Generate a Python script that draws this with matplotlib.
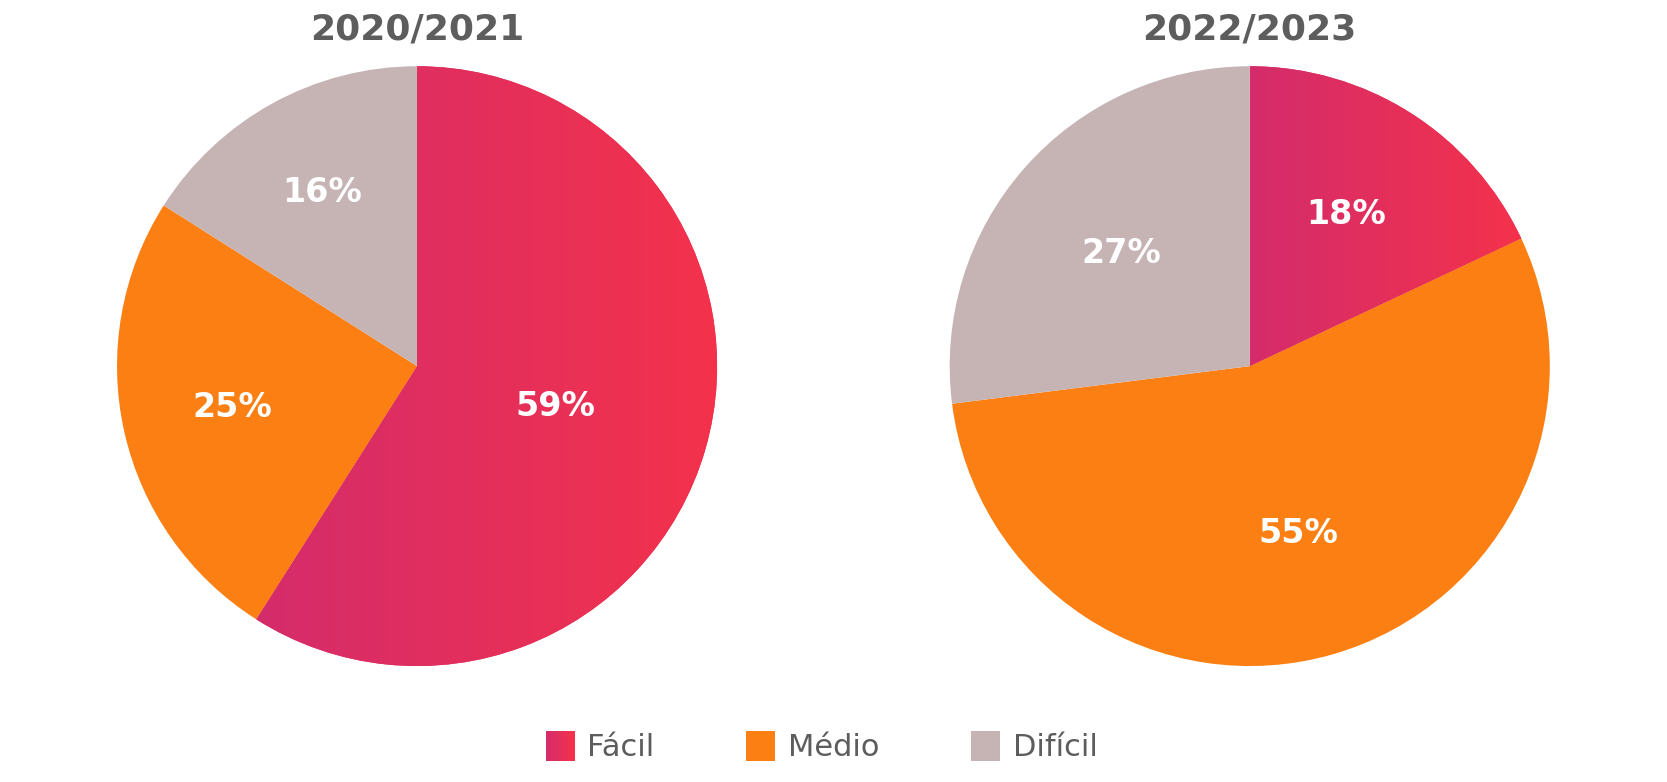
import numpy as np
import matplotlib
matplotlib.use("Agg")
import matplotlib.pyplot as plt
from matplotlib.colors import LinearSegmentedColormap
from matplotlib.patches import Rectangle, Patch
from matplotlib.legend_handler import HandlerBase

# données
categories = ["Fácil", "Médio", "Difícil"]
years = ["2020/2021", "2022/2023"]
values_2021 = [59, 25, 16]
values_2023 = [18, 55, 27]
all_values = [values_2021, values_2023]

# styles
grad_start = "#d42c6b"
grad_end = "#f4324b"
colors = ["#e52f5a", "#fb7f12", "#c6b3b4"]
title_color = "#5d5d5d"
grad_cmap = LinearSegmentedColormap.from_list("facil", [grad_start, grad_end])
label_dist = [[0.48, 0.63, 0.66], [0.6, 0.58, 0.57]]


class GradientHandler(HandlerBase):
    def create_artists(self, legend, orig_handle, xdescent, ydescent,
                       width, height, fontsize, trans):
        n = 30
        arts = []
        for k in range(n):
            r = Rectangle((-xdescent + k * width / n, -ydescent), width / n + 0.3, height,
                          facecolor=grad_cmap(k / (n - 1)), edgecolor="none",
                          transform=trans)
            arts.append(r)
        return arts


fig = plt.figure(figsize=(16.67, 7.82), dpi=100)
boxes = [[0.0702, 0.1483, 0.36, 0.767], [0.5697, 0.1483, 0.36, 0.767]]

for i, vals in enumerate(all_values):
    ax = fig.add_axes(boxes[i])
    wedges, texts = ax.pie(vals, colors=colors, startangle=90, counterclock=False,
                           radius=1, wedgeprops=dict(linewidth=0))
    # dégradé horizontal sur la part "Fácil"
    w = wedges[0]
    verts = w.get_path().vertices
    xmin, xmax = verts[:, 0].min(), verts[:, 0].max()
    ymin, ymax = verts[:, 1].min(), verts[:, 1].max()
    grad = np.linspace(0, 1, 256).reshape(1, -1)
    im = ax.imshow(grad, cmap=grad_cmap, extent=(xmin, xmax, ymin, ymax),
                   aspect="auto", zorder=w.get_zorder() + 0.1, interpolation="bilinear")
    im.set_clip_path(w)
    # étiquettes
    total = sum(vals)
    start = 90.0
    for j, v in enumerate(vals):
        ang = start - 360.0 * v / total / 2
        start -= 360.0 * v / total
        d = label_dist[i][j]
        ax.text(d * np.cos(np.radians(ang)), d * np.sin(np.radians(ang)), f"{v}%",
                ha="center", va="center", color="white", fontsize=24,
                fontweight="bold", zorder=5)
    ax.set_xlim(-1, 1)
    ax.set_ylim(-1, 1)
    ax.set_aspect("auto")
    ax.axis("off")
    cx = boxes[i][0] + boxes[i][2] / 2
    fig.text(cx, 0.962, years[i], ha="center", va="center", fontsize=26,
             fontweight="bold", color=title_color)

handles = [Patch(facecolor=colors[0]), Patch(facecolor=colors[1]), Patch(facecolor=colors[2])]
leg = fig.legend(handles, categories, loc="center", bbox_to_anchor=(0.493, 0.045), ncol=3,
                 frameon=False, fontsize=22, handlelength=0.95, handleheight=1.1,
                 handletextpad=0.42, columnspacing=3.0,
                 handler_map={handles[0]: GradientHandler()})
for t in leg.get_texts():
    t.set_color(title_color)

fig.savefig("out.png", dpi=100, facecolor="white")
